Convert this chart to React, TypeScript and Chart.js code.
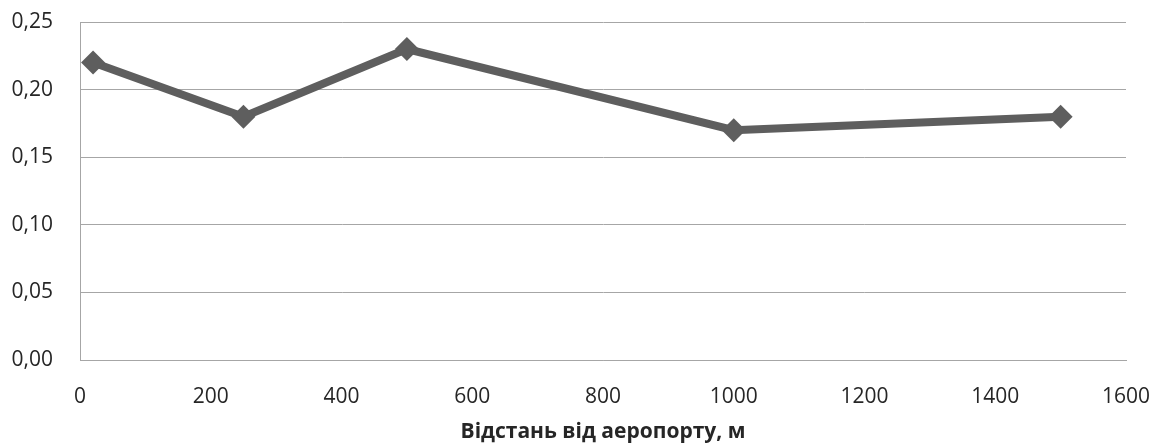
import React, { useEffect, useRef } from "react";
import { Chart, registerables } from "chart.js";

Chart.register(...registerables);

const distances = [20, 250, 500, 1000, 1500];
const values = [0.22, 0.18, 0.23, 0.17, 0.18];
const xTitle = "Відстань від аеропорту, м";

const FONT = "'Open Sans', 'Liberation Sans', sans-serif";

export default function App() {
  const ref = useRef<HTMLCanvasElement | null>(null);
  useEffect(() => {
    if (!ref.current) return;
    const chart = new Chart(ref.current, {
      type: "line",
      data: {
        datasets: [
          {
            data: distances.map((x, i) => ({ x, y: values[i] })),
            borderColor: "#5e5e5e",
            backgroundColor: "#5e5e5e",
            borderWidth: 8,
            pointStyle: "rectRot",
            pointRadius: 12,
            pointBorderWidth: 0,
            tension: 0,
          },
        ],
      },
      options: {
        responsive: false,
        animation: false,
        layout: { padding: { top: 22, right: 30, left: 0, bottom: 0 } },
        plugins: { legend: { display: false }, tooltip: { enabled: false } },
        scales: {
          x: {
            type: "linear",
            min: 0,
            max: 1600,
            afterFit: (s: any) => {
              s.height = 85;
              s.paddingLeft = 0;
              s.paddingRight = 0;
            },
            ticks: {
              stepSize: 200,
              color: "#262626",
              font: { family: FONT, size: 21 },
              padding: 24,
              maxRotation: 0,
              callback: (v: any) => String(v),
            },
            grid: { display: false, drawTicks: false },
            border: { display: true, color: "#a6a6a6", width: 1 },
            title: {
              display: true,
              text: xTitle,
              color: "#262626",
              font: { family: FONT, size: 21, weight: "bold" },
              padding: { top: 0, bottom: 0 },
            },
          },
          y: {
            min: 0,
            max: 0.25,
            afterFit: (s: any) => {
              s.width = 80;
              s.paddingTop = 0;
              s.paddingBottom = 0;
            },
            ticks: {
              stepSize: 0.05,
              color: "#262626",
              font: { family: FONT, size: 21 },
              padding: 27,
              callback: (v: any) => Number(v).toFixed(2).replace(".", ","),
            },
            grid: { color: "#a6a6a6", lineWidth: 1, drawTicks: false },
            border: { display: true, color: "#a6a6a6", width: 1 },
          },
        },
      },
    });
    return () => chart.destroy();
  }, []);
  return (
    <div style={{ position: "fixed", left: 0, top: 0, width: 1156, height: 445, background: "#fff" }}>
      <canvas ref={ref} width={1156} height={445} />
    </div>
  );
}
